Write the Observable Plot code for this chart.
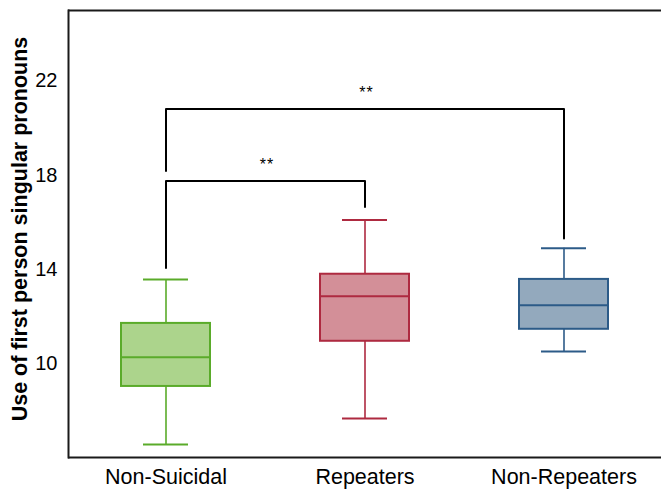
<!DOCTYPE html>
<html>
<head>
<meta charset="utf-8">
<script src="https://cdn.jsdelivr.net/npm/d3@7"></script>
<script src="https://cdn.jsdelivr.net/npm/@observablehq/plot@0.6"></script>
<style>
  html, body { margin: 0; padding: 0; background: #fff; }
  #chart svg { display: block; }
</style>
</head>
<body>
<div id="chart"></div>
<script>
// Box-plot summary values
const categories = ["Non-Suicidal", "Repeaters", "Non-Repeaters"];
const whiskerLow  = [6.55, 7.66, 10.51];
const q1          = [9.02, 10.94, 11.45];
const median      = [10.26, 12.85, 12.47];
const q3          = [11.70, 13.79, 13.57];
const whiskerHigh = [13.57, 16.09, 14.89];
const strokeColors = ["#5aab2a", "#ae2a40", "#2c5b88"];
const fillColors   = ["#acd48c", "#d38f98", "#93a9bd"];

// Significance brackets
const bracketFrom   = ["Non-Suicidal", "Non-Suicidal"];
const bracketTo     = ["Repeaters", "Non-Repeaters"];
const bracketHeight = [17.75, 20.81];
const legFromEnd    = [14.05, 18.18];
const legToEnd      = [16.65, 15.31];
const bracketLabel  = ["**", "**"];

const yTicks = [10, 14, 18, 22];
const yDomain = [6, 25];
const yTitle = "Use of first person singular pronouns";

const boxes = categories.map((c, i) => ({
  cat: c, low: whiskerLow[i], q1: q1[i], med: median[i], q3: q3[i], high: whiskerHigh[i],
  stroke: strokeColors[i], fill: fillColors[i]
}));

const bracketPts = [];
bracketFrom.forEach((f, i) => {
  bracketPts.push({id: i, x: f, y: legFromEnd[i]});
  bracketPts.push({id: i, x: f, y: bracketHeight[i]});
  bracketPts.push({id: i, x: bracketTo[i], y: bracketHeight[i]});
  bracketPts.push({id: i, x: bracketTo[i], y: legToEnd[i]});
});
const starLabels = bracketFrom.map((f, i) => ({
  x1: categories.indexOf(f), x2: categories.indexOf(bracketTo[i]), y: bracketHeight[i], t: bracketLabel[i]
}));

const font = "'Liberation Sans', Arial, Helvetica, sans-serif";

const plot = Plot.plot({
  width: 661,
  height: 490,
  marginLeft: 68,
  marginRight: 0,
  marginTop: 10,
  marginBottom: 33,
  style: {fontFamily: font, fontSize: "20px", color: "#000", background: "#fff"},
  x: {type: "band", domain: categories, paddingInner: 0.554, paddingOuter: 0.263, label: null},
  y: {domain: yDomain, ticks: yTicks, label: null},
  marks: [
    Plot.axisX({tickSize: 0, tickPadding: 11, fontSize: 21.5, label: null}),
    Plot.axisY({ticks: yTicks, tickSize: 0, tickPadding: 11, fontSize: 20, label: null}),
    Plot.ruleY(yDomain, {stroke: "#1a1a1a", strokeWidth: 2}),
    Plot.frame({anchor: "left", stroke: "#1a1a1a", strokeWidth: 2}),
    // whiskers
    Plot.ruleX(boxes, {x: "cat", y1: "low", y2: "high", stroke: d => d.stroke, strokeWidth: 1.6}),
    // caps
    Plot.tickY(boxes, {x: "cat", y: "low", stroke: d => d.stroke, strokeWidth: 2, inset: 22}),
    Plot.tickY(boxes, {x: "cat", y: "high", stroke: d => d.stroke, strokeWidth: 2, inset: 22}),
    // boxes
    Plot.barY(boxes, {x: "cat", y1: "q1", y2: "q3", fill: d => d.fill, stroke: d => d.stroke, strokeWidth: 2}),
    // median
    Plot.tickY(boxes, {x: "cat", y: "med", stroke: d => d.stroke, strokeWidth: 2}),
    // brackets
    Plot.line(bracketPts, {x: "x", y: "y", z: "id", stroke: "#000", strokeWidth: 2, curve: "linear"}),
    // y title
    Plot.text([yTitle], {frameAnchor: "left", textAnchor: "middle", text: d => d, rotate: -90, dx: -48, dy: -5, fontSize: 21.5, fontWeight: "bold", fill: "#000"})
  ]
});
document.getElementById("chart").appendChild(plot);

// star labels centred between bracket ends, using the plot's own scales
const xs = plot.scale("x"), ys = plot.scale("y");
const bw = xs.bandwidth;
const svg = d3.select(plot);
const g = svg.append("g").attr("font-family", font).attr("font-size", 16).attr("text-anchor", "middle");
starLabels.forEach(s => {
  const xa = xs.apply(categories[s.x1]) + bw / 2;
  const xb = xs.apply(categories[s.x2]) + bw / 2;
  g.append("text")
    .attr("x", (xa + xb) / 2 + 2)
    .attr("y", ys.apply(s.y) - 16)
    .attr("dy", "0.32em")
    .attr("letter-spacing", "1px")
    .text(s.t);
});
</script>
</body>
</html>
